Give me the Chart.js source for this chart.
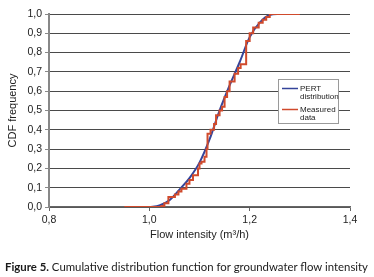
<!DOCTYPE html>
<html><head><meta charset="utf-8">
<script src="https://cdn.jsdelivr.net/npm/chart.js@4.4.1/dist/chart.umd.min.js"></script>
<style>
html,body{margin:0;padding:0;background:#fff;}
#wrap{position:relative;width:374px;height:277px;overflow:hidden;background:#fff;}
#c{position:absolute;left:0;top:0;}
#cap{position:absolute;left:5px;top:260px;font-family:Lato,'Open Sans',sans-serif;font-size:11.5px;line-height:14px;white-space:nowrap;color:#1a1a1a;transform-origin:0 0;}
</style></head><body>
<div id="wrap"><canvas id="c" width="374" height="277"></canvas>
<div id="cap"><b>Figure 5.</b> Cumulative distribution function for groundwater flow intensity</div></div>
<script>
// PERT distribution (smooth CDF)
const pertX = [1.00, 1.02, 1.04, 1.06, 1.08, 1.10, 1.12, 1.14, 1.16, 1.18, 1.20, 1.22, 1.24, 1.26];
const pertY = [0.00, 0.008, 0.035, 0.09, 0.15, 0.23, 0.35, 0.50, 0.63, 0.75, 0.88, 0.955, 0.995, 1.00];
// Measured data (empirical CDF, step at each x)
const measX = [0.95, 1.024, 1.030, 1.038, 1.051, 1.058, 1.064, 1.074, 1.080, 1.087, 1.097, 1.100, 1.104, 1.110, 1.114, 1.116, 1.122, 1.129, 1.133, 1.140, 1.145, 1.150, 1.155, 1.160, 1.170, 1.177, 1.182, 1.193, 1.200, 1.207, 1.218, 1.226, 1.233, 1.240, 1.30];
const measY = [0.00, 0.005, 0.02, 0.052, 0.065, 0.08, 0.095, 0.12, 0.14, 0.165, 0.20, 0.225, 0.235, 0.26, 0.30, 0.38, 0.40, 0.43, 0.475, 0.50, 0.52, 0.57, 0.60, 0.65, 0.69, 0.72, 0.74, 0.86, 0.90, 0.93, 0.955, 0.97, 0.985, 1.00, 1.00];
const xTicks = [0.8, 1.0, 1.2, 1.4];
const yTicks = [0.0, 0.1, 0.2, 0.3, 0.4, 0.5, 0.6, 0.7, 0.8, 0.9, 1.0];
const seriesNames = [['PERT', 'distribution'], ['Measured', 'data']];
const xTitle = 'Flow intensity (m³/h)';
const yTitle = 'CDF frequency';

const BLUE = '#34449a', RED = '#d04a2c';
const fmt = v => Number(v).toFixed(1).replace('.', ',');

const legendPlugin = {
  id: 'boxLegend',
  afterDatasetsDraw(chart) {
    const {ctx, chartArea: a} = chart;
    const bx = a.right - 72, by = a.top + 65, bw = 60, bh = 44;
    ctx.save();
    ctx.fillStyle = '#fff';
    ctx.fillRect(bx, by, bw, bh);
    ctx.strokeStyle = '#9a9a9a';
    ctx.lineWidth = 1;
    ctx.strokeRect(bx + 0.5, by + 0.5, bw, bh);
    ctx.font = '8px "Liberation Sans", Arial, sans-serif';
    ctx.fillStyle = '#222';
    ctx.textBaseline = 'middle';
    const cols = [BLUE, RED];
    seriesNames.forEach((lines, i) => {
      const ly = by + 9.5 + i * 21;
      ctx.strokeStyle = cols[i];
      ctx.lineWidth = 1.5;
      ctx.beginPath(); ctx.moveTo(bx + 4, ly); ctx.lineTo(bx + 20, ly); ctx.stroke();
      lines.forEach((t, j) => ctx.fillText(t, bx + 22, ly + j * 8.5));
    });
    ctx.restore();
  }
};

new Chart(document.getElementById('c'), {
  type: 'line',
  data: {
    datasets: [
      { label: 'PERT distribution', data: pertX.map((x, i) => ({x, y: pertY[i]})),
        borderColor: BLUE, borderWidth: 2, pointRadius: 0, cubicInterpolationMode: 'monotone', order: 1 },
      { label: 'Measured data', data: measX.map((x, i) => ({x, y: measY[i]})),
        borderColor: RED, borderWidth: 2, pointRadius: 0, stepped: 'before', order: 0 }
    ]
  },
  options: {
    responsive: false, animation: false,
    layout: { padding: { left: 0, top: 14, right: 24, bottom: 0 } },
    plugins: { legend: { display: false }, tooltip: { enabled: false } },
    scales: {
      x: {
        type: 'linear', min: 0.8, max: 1.4,
        afterBuildTicks: s => { s.ticks = xTicks.map(v => ({value: v})); },
        afterFit: s => { s.height = 70; },
        ticks: { callback: fmt, color: '#222', padding: 3, maxRotation: 0,
                 font: { family: '"Liberation Sans", Arial, sans-serif', size: 10.5 } },
        grid: { drawOnChartArea: false, drawTicks: true, tickLength: 4, tickColor: '#666' },
        border: { color: '#666', width: 1.5 },
        title: { display: true, text: xTitle, color: '#222', padding: { top: 0, bottom: 35 },
                 font: { family: '"Liberation Sans", Arial, sans-serif', size: 11 } }
      },
      y: {
        type: 'linear', min: 0, max: 1,
        afterBuildTicks: s => { s.ticks = yTicks.map(v => ({value: v})); },
        afterFit: s => { s.width = 49; },
        ticks: { callback: fmt, color: '#222', padding: 3,
                 font: { family: '"Liberation Sans", Arial, sans-serif', size: 10.5 } },
        grid: { color: '#4a4a4a', lineWidth: 1, tickLength: 4, tickColor: '#888' },
        border: { color: '#888', width: 2 },
        title: { display: true, text: yTitle, color: '#222', padding: { top: 6, bottom: 0 },
                 font: { family: '"Liberation Sans", Arial, sans-serif', size: 11 } }
      }
    }
  },
  plugins: [legendPlugin]
});

const cap = document.getElementById('cap');
const w = cap.getBoundingClientRect().width;
cap.style.transform = 'scaleX(' + (363 / w).toFixed(4) + ')';
</script>
</body></html>
